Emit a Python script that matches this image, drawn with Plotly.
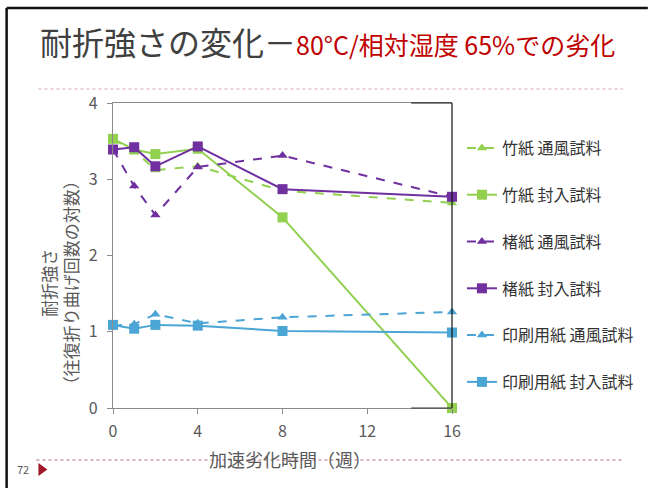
import plotly.graph_objects as go

weeks = [0, 1, 2, 4, 8, 16]
series_names = ["竹紙 通風試料", "竹紙 封入試料", "楮紙 通風試料", "楮紙 封入試料", "印刷用紙 通風試料", "印刷用紙 封入試料"]
bamboo_vent = [3.52, 3.38, 3.12, 3.17, 2.85, 2.69]
bamboo_sealed = [3.53, 3.39, 3.33, 3.40, 2.50, 0.00]
kozo_vent = [3.39, 2.91, 2.53, 3.16, 3.31, 2.77]
kozo_sealed = [3.39, 3.42, 3.17, 3.43, 2.87, 2.77]
print_vent = [1.08, 1.10, 1.23, 1.11, 1.19, 1.26]
print_sealed = [1.09, 1.04, 1.09, 1.08, 1.01, 0.99]
x_ticks = [0, 4, 8, 12, 16]
y_ticks = [0, 1, 2, 3, 4]

GREEN = "#92D050"
PURPLE = "#7030A0"
BLUE = "#4BA5D5"

series = [
    (series_names[0], bamboo_vent, GREEN, "dash", "triangle-up"),
    (series_names[1], bamboo_sealed, GREEN, "solid", "square"),
    (series_names[2], kozo_vent, PURPLE, "dash", "triangle-up"),
    (series_names[3], kozo_sealed, PURPLE, "solid", "square"),
    (series_names[4], print_vent, BLUE, "dash", "triangle-up"),
    (series_names[5], print_sealed, BLUE, "solid", "square"),
]

W, H = 651, 488
L, R, T, B = 113, 454, 103, 408


def xp(px):
    return (px - L) / (R - L)


def yp(py):
    return (B - py) / (B - T)


fig = go.Figure()
for i, (name, vals, color, dash, sym) in enumerate(series):
    fig.add_trace(go.Scatter(
        x=weeks, y=vals, name=name, mode="lines+markers",
        line=dict(color=color, width=2, dash=dash),
        marker=dict(symbol=sym, size=10 if sym == "square" else 9, color=color),
        legendgroup=f"g{i}", cliponaxis=False,
    ))

FONT = "Noto Sans CJK JP"
shapes = [
    # slide frame
    dict(type="line", xref="paper", yref="paper", x0=xp(6), x1=xp(651), y0=yp(8), y1=yp(8),
         line=dict(color="#111111", width=2.5)),
    dict(type="line", xref="paper", yref="paper", x0=xp(6), x1=xp(6), y0=yp(8), y1=yp(488),
         line=dict(color="#111111", width=2.5)),
    # dotted separators
    dict(type="line", xref="paper", yref="paper", x0=xp(38), x1=xp(626), y0=yp(89), y1=yp(89),
         line=dict(color="#D9A3AC", width=1, dash="dot")),
    dict(type="line", xref="paper", yref="paper", x0=xp(36), x1=xp(626), y0=yp(460), y1=yp(460),
         line=dict(color="#B86A78", width=1, dash="dot")),
    # plot frame right / partial top & bottom in black
    dict(type="line", xref="paper", yref="paper", x0=1, x1=1, y0=0, y1=1,
         line=dict(color="#111111", width=1.2)),
    dict(type="line", xref="paper", yref="paper", x0=xp(413), x1=1, y0=1, y1=1,
         line=dict(color="#111111", width=1.2)),
    dict(type="line", xref="paper", yref="paper", x0=xp(413), x1=1, y0=0, y1=0,
         line=dict(color="#333333", width=1.2)),
    # page marker triangle
    dict(type="path", xref="paper", yref="paper",
         path=f"M {xp(38)} {yp(463)} L {xp(47)} {yp(469.5)} L {xp(38)} {yp(476)} Z",
         fillcolor="#A0182A", line=dict(width=0)),
]

annotations = [
    dict(xref="paper", yref="paper", x=xp(38), y=yp(41), xanchor="left", yanchor="middle",
         showarrow=False,
         text="<span style='color:#404040;font-size:32px'>耐折強さの変化－</span>"
              "<span style='color:#C00000;font-size:25px'>80°C/相対湿度 65%での劣化</span>",
         font=dict(family=FONT)),
    dict(xref="paper", yref="paper", x=xp(59), y=yp(283), xanchor="center", yanchor="middle",
         showarrow=False, textangle=-90,
         text="耐折強さ<br>（往復折り曲げ回数の対数）",
         font=dict(family=FONT, size=17, color="#595959")),
    dict(xref="paper", yref="paper", x=xp(291), y=yp(459), xanchor="center", yanchor="middle",
         showarrow=False, text="加速劣化時間（週）",
         font=dict(family=FONT, size=18, color="#595959")),
    dict(xref="paper", yref="paper", x=xp(31), y=yp(469), xanchor="right", yanchor="middle",
         showarrow=False, text="72", font=dict(family=FONT, size=11, color="#595959")),
]

fig.update_layout(
    width=W, height=H,
    margin=dict(l=L, r=W - R, t=T, b=H - B),
    paper_bgcolor="white", plot_bgcolor="white",
    font=dict(family=FONT, color="#404040"),
    showlegend=True,
    legend=dict(x=xp(464), y=yp(131), xanchor="left", yanchor="top",
                font=dict(family=FONT, size=16, color="#333333"),
                itemwidth=30, tracegroupgap=23, bgcolor="rgba(0,0,0,0)"),
    shapes=shapes,
    annotations=annotations,
    xaxis=dict(range=[0, 16], tickvals=x_ticks, ticktext=[str(v) for v in x_ticks],
               showgrid=False, zeroline=False, showline=True, linecolor="#8C8C8C", linewidth=1.2,
               mirror=True, ticks="outside", ticklen=5, tickcolor="#8C8C8C", ticklabelstandoff=4,
               tickfont=dict(family=FONT, size=16, color="#595959")),
    yaxis=dict(range=[0, 4], tickvals=y_ticks, ticktext=[str(v) for v in y_ticks],
               showgrid=False, zeroline=False, showline=True, linecolor="#8C8C8C", linewidth=1.2,
               ticks="outside", ticklen=5, tickcolor="#8C8C8C", ticklabelstandoff=6,
               tickfont=dict(family=FONT, size=16, color="#595959")),
)

fig.write_html("out.html", config={"displayModeBar": False},
               post_script="document.body.style.margin='0';")
